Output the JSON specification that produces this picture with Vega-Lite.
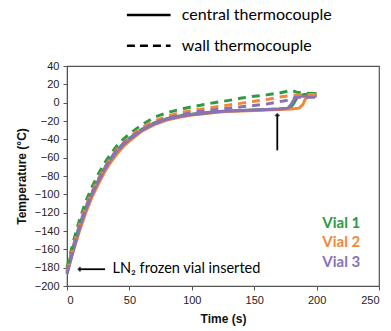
{
  "$schema": "https://vega.github.io/schema/vega-lite/v6.json",
  "autosize": {"type": "none"},
  "width": 312,
  "height": 220,
  "padding": {"left": 67, "top": 66, "right": 12, "bottom": 45},
  "config": {
    "view": {"stroke": "#555555", "strokeWidth": 1.2},
    "axis": {"labelFont": "Liberation Sans", "titleFont": "Liberation Sans", "labelFontSize": 11, "titleFontSize": 12, "labelColor": "#222", "titleColor": "#111", "grid": false, "domainColor": "#555", "tickColor": "#555", "labelOverlap": false}
  },
  "encoding": {
    "x": {"field": "t", "type": "quantitative", "scale": {"domain": [0, 250]}, "axis": {"title": "Time (s)", "values": [0, 50, 100, 150, 200, 250], "tickSize": 4, "labelPadding": 4, "titlePadding": 8, "labelOverlap": false}},
    "y": {"field": "T", "type": "quantitative", "scale": {"domain": [-200, 40]}, "axis": {"title": "Temperature (°C)", "values": [-200, -180, -160, -140, -120, -100, -80, -60, -40, -20, 0, 20, 40], "tickSize": 4, "labelPadding": 4, "titlePadding": 6, "labelOverlap": false}}
  },
  "datasets": {
    "curves": [
      {"t":0,"T":-182,"vial":"Vial 1","sensor":"central"},{"t":5,"T":-157,"vial":"Vial 1","sensor":"central"},{"t":10,"T":-134,"vial":"Vial 1","sensor":"central"},{"t":15,"T":-115,"vial":"Vial 1","sensor":"central"},{"t":20,"T":-99,"vial":"Vial 1","sensor":"central"},{"t":25,"T":-85,"vial":"Vial 1","sensor":"central"},{"t":30,"T":-72,"vial":"Vial 1","sensor":"central"},{"t":35,"T":-61,"vial":"Vial 1","sensor":"central"},{"t":40,"T":-52,"vial":"Vial 1","sensor":"central"},{"t":45,"T":-45,"vial":"Vial 1","sensor":"central"},{"t":50,"T":-39,"vial":"Vial 1","sensor":"central"},{"t":60,"T":-29,"vial":"Vial 1","sensor":"central"},{"t":70,"T":-22,"vial":"Vial 1","sensor":"central"},{"t":80,"T":-17.5,"vial":"Vial 1","sensor":"central"},{"t":90,"T":-14.5,"vial":"Vial 1","sensor":"central"},{"t":100,"T":-12.5,"vial":"Vial 1","sensor":"central"},{"t":110,"T":-11,"vial":"Vial 1","sensor":"central"},{"t":120,"T":-10,"vial":"Vial 1","sensor":"central"},{"t":130,"T":-9,"vial":"Vial 1","sensor":"central"},{"t":140,"T":-8.5,"vial":"Vial 1","sensor":"central"},{"t":150,"T":-8,"vial":"Vial 1","sensor":"central"},{"t":160,"T":-7.5,"vial":"Vial 1","sensor":"central"},{"t":170,"T":-7,"vial":"Vial 1","sensor":"central"},{"t":179,"T":-6,"vial":"Vial 1","sensor":"central"},{"t":182,"T":0,"vial":"Vial 1","sensor":"central"},{"t":185,"T":7,"vial":"Vial 1","sensor":"central"},{"t":190,"T":9,"vial":"Vial 1","sensor":"central"},{"t":200,"T":10,"vial":"Vial 1","sensor":"central"},
      {"t":0,"T":-185,"vial":"Vial 2","sensor":"central"},{"t":5,"T":-162,"vial":"Vial 2","sensor":"central"},{"t":10,"T":-140,"vial":"Vial 2","sensor":"central"},{"t":15,"T":-120,"vial":"Vial 2","sensor":"central"},{"t":20,"T":-103,"vial":"Vial 2","sensor":"central"},{"t":25,"T":-89,"vial":"Vial 2","sensor":"central"},{"t":30,"T":-76,"vial":"Vial 2","sensor":"central"},{"t":35,"T":-65,"vial":"Vial 2","sensor":"central"},{"t":40,"T":-56,"vial":"Vial 2","sensor":"central"},{"t":45,"T":-48,"vial":"Vial 2","sensor":"central"},{"t":50,"T":-42,"vial":"Vial 2","sensor":"central"},{"t":60,"T":-31,"vial":"Vial 2","sensor":"central"},{"t":70,"T":-24,"vial":"Vial 2","sensor":"central"},{"t":80,"T":-19,"vial":"Vial 2","sensor":"central"},{"t":90,"T":-16,"vial":"Vial 2","sensor":"central"},{"t":100,"T":-13.5,"vial":"Vial 2","sensor":"central"},{"t":110,"T":-12,"vial":"Vial 2","sensor":"central"},{"t":120,"T":-10.5,"vial":"Vial 2","sensor":"central"},{"t":130,"T":-9.5,"vial":"Vial 2","sensor":"central"},{"t":140,"T":-9,"vial":"Vial 2","sensor":"central"},{"t":150,"T":-8.5,"vial":"Vial 2","sensor":"central"},{"t":160,"T":-8,"vial":"Vial 2","sensor":"central"},{"t":170,"T":-7.5,"vial":"Vial 2","sensor":"central"},{"t":180,"T":-7,"vial":"Vial 2","sensor":"central"},{"t":186,"T":-6,"vial":"Vial 2","sensor":"central"},{"t":189,"T":-2,"vial":"Vial 2","sensor":"central"},{"t":191,"T":4,"vial":"Vial 2","sensor":"central"},{"t":194,"T":7,"vial":"Vial 2","sensor":"central"},{"t":200,"T":8,"vial":"Vial 2","sensor":"central"},
      {"t":0,"T":-187,"vial":"Vial 3","sensor":"central"},{"t":5,"T":-161,"vial":"Vial 3","sensor":"central"},{"t":10,"T":-137,"vial":"Vial 3","sensor":"central"},{"t":15,"T":-117,"vial":"Vial 3","sensor":"central"},{"t":20,"T":-100,"vial":"Vial 3","sensor":"central"},{"t":25,"T":-86,"vial":"Vial 3","sensor":"central"},{"t":30,"T":-73,"vial":"Vial 3","sensor":"central"},{"t":35,"T":-62,"vial":"Vial 3","sensor":"central"},{"t":40,"T":-53,"vial":"Vial 3","sensor":"central"},{"t":45,"T":-46,"vial":"Vial 3","sensor":"central"},{"t":50,"T":-40,"vial":"Vial 3","sensor":"central"},{"t":60,"T":-30,"vial":"Vial 3","sensor":"central"},{"t":70,"T":-23,"vial":"Vial 3","sensor":"central"},{"t":80,"T":-18,"vial":"Vial 3","sensor":"central"},{"t":90,"T":-15,"vial":"Vial 3","sensor":"central"},{"t":100,"T":-13,"vial":"Vial 3","sensor":"central"},{"t":110,"T":-11.5,"vial":"Vial 3","sensor":"central"},{"t":120,"T":-10,"vial":"Vial 3","sensor":"central"},{"t":130,"T":-9,"vial":"Vial 3","sensor":"central"},{"t":140,"T":-8.5,"vial":"Vial 3","sensor":"central"},{"t":150,"T":-8,"vial":"Vial 3","sensor":"central"},{"t":160,"T":-7.5,"vial":"Vial 3","sensor":"central"},{"t":170,"T":-7,"vial":"Vial 3","sensor":"central"},{"t":177,"T":-6,"vial":"Vial 3","sensor":"central"},{"t":180,"T":-1,"vial":"Vial 3","sensor":"central"},{"t":183,"T":6,"vial":"Vial 3","sensor":"central"},{"t":186,"T":7,"vial":"Vial 3","sensor":"central"},{"t":200,"T":7,"vial":"Vial 3","sensor":"central"},
      {"t":0,"T":-180,"vial":"Vial 1","sensor":"wall"},{"t":5,"T":-152,"vial":"Vial 1","sensor":"wall"},{"t":10,"T":-128,"vial":"Vial 1","sensor":"wall"},{"t":15,"T":-108,"vial":"Vial 1","sensor":"wall"},{"t":20,"T":-92,"vial":"Vial 1","sensor":"wall"},{"t":25,"T":-78,"vial":"Vial 1","sensor":"wall"},{"t":30,"T":-66,"vial":"Vial 1","sensor":"wall"},{"t":35,"T":-56,"vial":"Vial 1","sensor":"wall"},{"t":40,"T":-47,"vial":"Vial 1","sensor":"wall"},{"t":45,"T":-40,"vial":"Vial 1","sensor":"wall"},{"t":50,"T":-34,"vial":"Vial 1","sensor":"wall"},{"t":60,"T":-24,"vial":"Vial 1","sensor":"wall"},{"t":70,"T":-16,"vial":"Vial 1","sensor":"wall"},{"t":80,"T":-11,"vial":"Vial 1","sensor":"wall"},{"t":90,"T":-7.5,"vial":"Vial 1","sensor":"wall"},{"t":100,"T":-4.5,"vial":"Vial 1","sensor":"wall"},{"t":110,"T":-2,"vial":"Vial 1","sensor":"wall"},{"t":120,"T":0.5,"vial":"Vial 1","sensor":"wall"},{"t":130,"T":2.5,"vial":"Vial 1","sensor":"wall"},{"t":140,"T":5,"vial":"Vial 1","sensor":"wall"},{"t":150,"T":7,"vial":"Vial 1","sensor":"wall"},{"t":160,"T":8.5,"vial":"Vial 1","sensor":"wall"},{"t":170,"T":10.5,"vial":"Vial 1","sensor":"wall"},{"t":180,"T":13.5,"vial":"Vial 1","sensor":"wall"},{"t":185,"T":11,"vial":"Vial 1","sensor":"wall"},{"t":190,"T":10.5,"vial":"Vial 1","sensor":"wall"},{"t":200,"T":10,"vial":"Vial 1","sensor":"wall"},
      {"t":0,"T":-184,"vial":"Vial 2","sensor":"wall"},{"t":5,"T":-157,"vial":"Vial 2","sensor":"wall"},{"t":10,"T":-133,"vial":"Vial 2","sensor":"wall"},{"t":15,"T":-113,"vial":"Vial 2","sensor":"wall"},{"t":20,"T":-97,"vial":"Vial 2","sensor":"wall"},{"t":25,"T":-83,"vial":"Vial 2","sensor":"wall"},{"t":30,"T":-71,"vial":"Vial 2","sensor":"wall"},{"t":35,"T":-60,"vial":"Vial 2","sensor":"wall"},{"t":40,"T":-51,"vial":"Vial 2","sensor":"wall"},{"t":45,"T":-44,"vial":"Vial 2","sensor":"wall"},{"t":50,"T":-38,"vial":"Vial 2","sensor":"wall"},{"t":60,"T":-27,"vial":"Vial 2","sensor":"wall"},{"t":70,"T":-20,"vial":"Vial 2","sensor":"wall"},{"t":80,"T":-15,"vial":"Vial 2","sensor":"wall"},{"t":90,"T":-11,"vial":"Vial 2","sensor":"wall"},{"t":100,"T":-8.5,"vial":"Vial 2","sensor":"wall"},{"t":110,"T":-6.5,"vial":"Vial 2","sensor":"wall"},{"t":120,"T":-4.5,"vial":"Vial 2","sensor":"wall"},{"t":130,"T":-2.5,"vial":"Vial 2","sensor":"wall"},{"t":140,"T":-0.5,"vial":"Vial 2","sensor":"wall"},{"t":150,"T":1.5,"vial":"Vial 2","sensor":"wall"},{"t":160,"T":3.5,"vial":"Vial 2","sensor":"wall"},{"t":170,"T":6,"vial":"Vial 2","sensor":"wall"},{"t":180,"T":8,"vial":"Vial 2","sensor":"wall"},{"t":190,"T":9,"vial":"Vial 2","sensor":"wall"},{"t":200,"T":9,"vial":"Vial 2","sensor":"wall"},
      {"t":0,"T":-186,"vial":"Vial 3","sensor":"wall"},{"t":5,"T":-159,"vial":"Vial 3","sensor":"wall"},{"t":10,"T":-135,"vial":"Vial 3","sensor":"wall"},{"t":15,"T":-115,"vial":"Vial 3","sensor":"wall"},{"t":20,"T":-99,"vial":"Vial 3","sensor":"wall"},{"t":25,"T":-85,"vial":"Vial 3","sensor":"wall"},{"t":30,"T":-72,"vial":"Vial 3","sensor":"wall"},{"t":35,"T":-61,"vial":"Vial 3","sensor":"wall"},{"t":40,"T":-52,"vial":"Vial 3","sensor":"wall"},{"t":45,"T":-45,"vial":"Vial 3","sensor":"wall"},{"t":50,"T":-39,"vial":"Vial 3","sensor":"wall"},{"t":60,"T":-29,"vial":"Vial 3","sensor":"wall"},{"t":70,"T":-22,"vial":"Vial 3","sensor":"wall"},{"t":80,"T":-17,"vial":"Vial 3","sensor":"wall"},{"t":90,"T":-13.5,"vial":"Vial 3","sensor":"wall"},{"t":100,"T":-11,"vial":"Vial 3","sensor":"wall"},{"t":110,"T":-9,"vial":"Vial 3","sensor":"wall"},{"t":120,"T":-7.5,"vial":"Vial 3","sensor":"wall"},{"t":130,"T":-6,"vial":"Vial 3","sensor":"wall"},{"t":140,"T":-4.5,"vial":"Vial 3","sensor":"wall"},{"t":150,"T":-3,"vial":"Vial 3","sensor":"wall"},{"t":160,"T":-1.5,"vial":"Vial 3","sensor":"wall"},{"t":170,"T":1,"vial":"Vial 3","sensor":"wall"},{"t":180,"T":3.5,"vial":"Vial 3","sensor":"wall"},{"t":183,"T":6,"vial":"Vial 3","sensor":"wall"},{"t":190,"T":6,"vial":"Vial 3","sensor":"wall"},{"t":200,"T":6,"vial":"Vial 3","sensor":"wall"}
    ]
  },
  "layer": [
    {
      "data": {"name": "curves"},
      "transform": [{"filter": "datum.sensor === 'central'"}],
      "mark": {"type": "line", "strokeWidth": 3},
      "encoding": {
        "color": {"field": "vial", "type": "nominal", "scale": {"domain": ["Vial 1", "Vial 2", "Vial 3"], "range": ["#2f9a44", "#f0883a", "#8a72b5"]}, "legend": null},
        "order": {"field": "t"}
      }
    },
    {
      "data": {"name": "curves"},
      "transform": [{"filter": "datum.sensor === 'wall'"}],
      "mark": {"type": "line", "strokeWidth": 3, "strokeDash": [8, 6]},
      "encoding": {
        "color": {"field": "vial", "type": "nominal", "legend": null},
        "order": {"field": "t"}
      }
    },
    {
      "data": {"values": [
        {"t": 48, "t2": 83, "T": 95.7, "kind": "central"},
        {"t": 48, "t2": 83, "T": 62, "kind": "wall"}
      ]},
      "mark": {"type": "rule", "strokeWidth": 2.5, "color": "black"},
      "encoding": {
        "x2": {"field": "t2"},
        "strokeDash": {"field": "kind", "type": "nominal", "scale": {"domain": ["central", "wall"], "range": [[1, 0], [8, 5]]}, "legend": null}
      }
    },
    {
      "data": {"values": [
        {"t": 92, "T": 95.7, "label": "central thermocouple"},
        {"t": 92, "T": 62, "label": "wall thermocouple"}
      ]},
      "mark": {"type": "text", "align": "left", "baseline": "middle", "font": "Lato", "fontSize": 16, "color": "black"},
      "encoding": {"text": {"field": "label"}}
    },
    {
      "data": {"values": [
        {"t": 9.5, "t2": 30.5, "T": -181.7, "T2": -181.7},
        {"t": 168.5, "t2": 168.5, "T": -13, "T2": -52}
      ]},
      "mark": {"type": "rule", "strokeWidth": 1.8, "color": "black"},
      "encoding": {
        "x2": {"field": "t2"},
        "y2": {"field": "T2"}
      }
    },
    {
      "data": {"values": [
        {"t": 9.2, "T": -181.7, "dir": "left"},
        {"t": 168.5, "T": -12.5, "dir": "up"}
      ]},
      "mark": {"type": "point", "filled": false, "strokeWidth": 1.8, "color": "black", "size": 36},
      "encoding": {
        "shape": {"field": "dir", "type": "nominal", "scale": {"domain": ["left", "up"], "range": ["M0.7,-0.7L0,0L0.7,0.7", "M-0.7,0.7L0,0L0.7,0.7"]}, "legend": null}
      }
    },
    {
      "data": {"values": [{"t": 36.5, "T": -181.7, "label": "LN₂ frozen vial inserted"}]},
      "mark": {"type": "text", "align": "left", "baseline": "middle", "font": "Lato", "fontSize": 14.5, "color": "black"},
      "encoding": {"text": {"field": "label"}}
    },
    {
      "data": {"values": [
        {"t": 235, "T": -131, "vial": "Vial 1"},
        {"t": 235, "T": -152.5, "vial": "Vial 2"},
        {"t": 235, "T": -173.5, "vial": "Vial 3"}
      ]},
      "mark": {"type": "text", "align": "right", "baseline": "middle", "font": "Lato", "fontWeight": "bold", "fontSize": 15},
      "encoding": {
        "text": {"field": "vial"},
        "color": {"field": "vial", "type": "nominal", "legend": null}
      }
    }
  ]
}
